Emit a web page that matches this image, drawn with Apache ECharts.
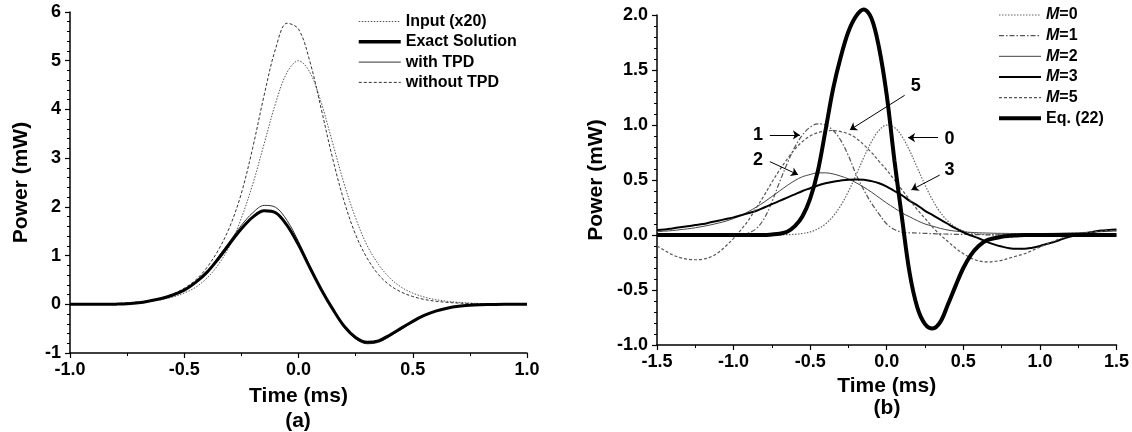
<!DOCTYPE html>
<html>
<head>
<meta charset="utf-8">
<script src="https://cdn.jsdelivr.net/npm/echarts@6/dist/echarts.min.js"></script>
<style>
  html, body { margin: 0; padding: 0; background: #fff; }
  #chart { width: 1132px; height: 432px; }
</style>
</head>
<body>
<div id="chart"></div>
<script>
// panel (a): time axis and curves
var timeA = [-1.0, -0.95, -0.9, -0.85, -0.8, -0.75, -0.7, -0.65, -0.6, -0.55,
  -0.5, -0.45, -0.4, -0.35, -0.3, -0.25, -0.2, -0.15, -0.1, -0.05,
  0, 0.05, 0.1, 0.15, 0.2, 0.25, 0.3, 0.35, 0.4, 0.45,
  0.5, 0.55, 0.6, 0.65, 0.7, 0.75, 0.8, 0.85, 0.9, 0.95,
  1.0];
var inputX20 = [0.003, 0.004, 0.0065, 0.010, 0.016, 0.025, 0.040, 0.062, 0.096, 0.149,
  0.23, 0.35, 0.54, 0.82, 1.21, 1.77, 2.47, 3.30, 4.13, 4.76,
  5.0, 4.76, 4.13, 3.30, 2.47, 1.77, 1.21, 0.82, 0.54, 0.35,
  0.23, 0.149, 0.096, 0.062, 0.040, 0.025, 0.016, 0.010, 0.0065, 0.004,
  0.003];
var exactSol = [0, 0, 0, 0, 0.003, 0.01, 0.03, 0.07, 0.12, 0.19,
  0.29, 0.45, 0.66, 0.94, 1.25, 1.55, 1.79, 1.92, 1.88, 1.62,
  1.22, 0.75, 0.30, -0.10, -0.45, -0.68, -0.78, -0.75, -0.63, -0.49,
  -0.35, -0.23, -0.14, -0.08, -0.04, -0.02, -0.01, -0.004, 0, 0,
  0];
var withTPD = [0, 0, 0, 0, 0.003, 0.01, 0.03, 0.07, 0.12, 0.19,
  0.30, 0.46, 0.68, 0.98, 1.30, 1.62, 1.88, 2.03, 1.99, 1.72,
  1.29, 0.79, 0.31, -0.11, -0.47, -0.71, -0.81, -0.78, -0.66, -0.51,
  -0.37, -0.24, -0.15, -0.08, -0.04, -0.02, -0.01, -0.004, 0, 0,
  0];
var withoutTPD = [0.002, 0.003, 0.005, 0.008, 0.015, 0.03, 0.05, 0.08, 0.13, 0.21,
  0.33, 0.50, 0.76, 1.12, 1.60, 2.28, 3.22, 4.30, 5.25, 5.77,
  5.65, 4.98, 4.0, 2.98, 2.11, 1.43, 0.95, 0.61, 0.39, 0.25,
  0.16, 0.10, 0.063, 0.04, 0.025, 0.016, 0.010, 0.006, 0.004, 0.002,
  0.001];

// panel (b)
var timeB = [-1.5, -1.45, -1.4, -1.35, -1.3, -1.25, -1.2, -1.15, -1.1, -1.05,
  -1.0, -0.95, -0.9, -0.85, -0.8, -0.75, -0.7, -0.65, -0.6, -0.55,
  -0.5, -0.45, -0.4, -0.35, -0.3, -0.25, -0.2, -0.15, -0.1, -0.05,
  0, 0.05, 0.1, 0.15, 0.2, 0.25, 0.3, 0.35, 0.4, 0.45,
  0.5, 0.55, 0.6, 0.65, 0.7, 0.75, 0.8, 0.85, 0.9, 0.95,
  1.0, 1.05, 1.1, 1.15, 1.2, 1.25, 1.3, 1.35, 1.4, 1.45,
  1.5];
var m0 = [0, 0, 0, 0, 0, 0, 0, 0, 0, 0,
  0, 0, 0, 0, 0, 0.001, 0.001, 0.003, 0.006, 0.014,
  0.028, 0.055, 0.10, 0.17, 0.268, 0.396, 0.547, 0.704, 0.847, 0.952,
  0.999, 0.978, 0.895, 0.765, 0.61, 0.454, 0.316, 0.205, 0.125, 0.07,
  0.037, 0.018, 0.0085, 0.0037, 0.0015, 0.0005, 0, 0, 0, 0,
  0, 0, 0, 0, 0, 0, 0, 0, 0, 0,
  0];
var m1 = [0, 0, 0, 0, 0, 0, 0, 0, 0, 0,
  0, 0.005, 0.02, 0.06, 0.15, 0.30, 0.48, 0.65, 0.80, 0.91,
  0.98, 1.01, 1.0, 0.95, 0.86, 0.72, 0.55, 0.41, 0.29, 0.19,
  0.10, 0.05, 0.025, 0.02, 0.018, 0.015, 0.012, 0.01, 0.008, 0.006,
  0.005, 0.004, 0.003, 0.002, 0.002, 0.002, 0.001, 0.001, 0.001, 0.001,
  0, 0, 0, 0, 0, 0, 0, 0, 0, 0,
  0];
var m2 = [0.03, 0.035, 0.04, 0.048, 0.056, 0.066, 0.078, 0.092, 0.108, 0.126,
  0.15, 0.18, 0.215, 0.255, 0.30, 0.35, 0.40, 0.45, 0.495, 0.53,
  0.55, 0.565, 0.565, 0.555, 0.535, 0.51, 0.475, 0.435, 0.39, 0.34,
  0.29, 0.245, 0.20, 0.165, 0.13, 0.10, 0.08, 0.06, 0.045, 0.035,
  0.028, 0.024, 0.02, 0.018, 0.016, 0.015, 0.014, 0.013, 0.013, 0.013,
  0.013, 0.014, 0.015, 0.017, 0.019, 0.021, 0.024, 0.027, 0.03, 0.033,
  0.036];
var m3 = [0.045, 0.05, 0.06, 0.07, 0.08, 0.09, 0.10, 0.115, 0.13, 0.145,
  0.16, 0.18, 0.20, 0.22, 0.25, 0.28, 0.31, 0.34, 0.37, 0.40,
  0.425, 0.45, 0.47, 0.485, 0.495, 0.503, 0.505, 0.503, 0.49, 0.47,
  0.44, 0.40, 0.36, 0.31, 0.27, 0.22, 0.18, 0.14, 0.10, 0.06,
  0.025, -0.005, -0.03, -0.06, -0.085, -0.105, -0.12, -0.125, -0.125, -0.115,
  -0.10, -0.08, -0.06, -0.035, -0.015, 0.0, 0.015, 0.03, 0.04, 0.045,
  0.05];
var m5 = [-0.10, -0.14, -0.18, -0.205, -0.22, -0.225, -0.22, -0.20, -0.16, -0.10,
  -0.03, 0.05, 0.14, 0.25, 0.36, 0.48, 0.59, 0.69, 0.78, 0.85,
  0.90, 0.93, 0.945, 0.95, 0.94, 0.92, 0.88, 0.82, 0.75, 0.67,
  0.59, 0.50, 0.41, 0.32, 0.23, 0.15, 0.07, 0.0, -0.06, -0.12,
  -0.17, -0.21, -0.235, -0.245, -0.24, -0.23, -0.21, -0.19, -0.17, -0.14,
  -0.11, -0.08, -0.05, -0.025, -0.005, 0.01, 0.02, 0.03, 0.035, 0.04,
  0.04];
var eq22 = [0, 0, 0, 0, 0, 0, 0, 0, 0, 0,
  0, 0, 0, 0, 0, 0.005, 0.012, 0.03, 0.08, 0.17,
  0.33, 0.58, 0.95, 1.33, 1.62, 1.85, 1.99, 2.05, 1.97, 1.70,
  1.27, 0.68, 0.15, -0.35, -0.66, -0.81, -0.85, -0.79, -0.63, -0.46,
  -0.30, -0.18, -0.10, -0.05, -0.03, -0.015, -0.008, -0.004, 0, 0,
  0, 0, 0, 0, 0, 0, 0, 0, 0, 0,
  0];

// curve labels in (b): [x, y, text]
var markLabels = [[0.19, 1.35, '5'], [0.41, 0.87, '0'], [-0.84, 0.91, '1'], [-0.84, 0.68, '2'], [0.41, 0.59, '3']];
// arrows in (b): [x1, y1, x2, y2]
var arrows = [[0.117, 1.27, -0.241, 0.955], [0.335, 0.885, 0.139, 0.885], [-0.763, 0.91, -0.567, 0.91],
  [-0.763, 0.667, -0.579, 0.548], [0.346, 0.545, 0.161, 0.41]];

var FONT = 'Liberation Sans, Arial, sans-serif';

function pairs(xs, ys) {
  return xs.map(function (x, i) { return [x, ys[i]]; });
}

function lineSeries(name, idx, xs, ys, style) {
  return {
    name: name,
    type: 'line',
    xAxisIndex: idx,
    yAxisIndex: idx,
    data: pairs(xs, ys),
    symbol: 'none',
    showSymbol: false,
    smooth: 0.35,
    clip: false,
    lineStyle: style,
    itemStyle: { color: style.color },
    z: style.width > 2 ? 3 : 2
  };
}

function xAxisCfg(idx, min, max) {
  return {
    gridIndex: idx,
    type: 'value',
    min: min,
    max: max,
    interval: 0.5,
    name: 'Time (ms)',
    nameLocation: 'middle',
    nameGap: idx === 0 ? 33 : 29,
    nameTextStyle: { fontFamily: FONT, fontWeight: 'bold', fontSize: 21, color: '#000' },
    axisLine: { onZero: false, lineStyle: { color: '#000', width: 1.5 } },
    axisTick: { length: 5, lineStyle: { color: '#000', width: 1.2 } },
    minorTick: { show: true, splitNumber: 2, length: 3, lineStyle: { color: '#000', width: 1 } },
    splitLine: { show: false },
    axisLabel: {
      margin: 8,
      fontFamily: FONT, fontWeight: 'bold', fontSize: 18, color: '#000',
      formatter: function (v) { return v.toFixed(1); }
    }
  };
}

function yAxisCfg(idx, min, max, step, digits, gap) {
  return {
    gridIndex: idx,
    type: 'value',
    min: min,
    max: max,
    interval: step,
    name: 'Power (mW)',
    nameLocation: 'middle',
    nameGap: gap,
    nameTextStyle: { fontFamily: FONT, fontWeight: 'bold', fontSize: 21, color: '#000' },
    axisLine: { onZero: false, lineStyle: { color: '#000', width: 1.5 } },
    axisTick: { length: 5, lineStyle: { color: '#000', width: 1.2 } },
    minorTick: { show: true, splitNumber: 5, length: 3, lineStyle: { color: '#000', width: 1 } },
    splitLine: { show: false },
    axisLabel: {
      margin: 9,
      fontFamily: FONT, fontWeight: 'bold', fontSize: 18, color: '#000',
      formatter: function (v) { return v.toFixed(digits); }
    }
  };
}

var legendText = { fontFamily: FONT, fontWeight: 'bold', fontSize: 16, color: '#000', lineHeight: 16 };
var hiddenDot = { color: 'rgba(0,0,0,0)', borderColor: 'rgba(0,0,0,0)', borderWidth: 0, opacity: 0 };

function legendItem(name, width) {
  return { name: name, lineStyle: { width: width } };
}

var chart = echarts.init(document.getElementById('chart'), null, { renderer: 'canvas' });

var option = {
  backgroundColor: '#fff',
  animation: false,
  grid: [
    { left: 70, top: 12, width: 457, height: 341 },
    { left: 657, top: 15, width: 460, height: 330 }
  ],
  xAxis: [xAxisCfg(0, -1, 1), xAxisCfg(1, -1.5, 1.5)],
  yAxis: [yAxisCfg(0, -1, 6, 1, 0, 38), yAxisCfg(1, -1, 2, 0.5, 1, 50)],
  legend: [
    {
      data: [legendItem('Input (x20)', 1), legendItem('Exact Solution', 3.5),
        legendItem('with TPD', 1), legendItem('without TPD', 1)],
      orient: 'vertical', left: 357, top: 13.5, padding: 0,
      itemWidth: 42, itemHeight: 14, itemGap: 4.3,
      itemStyle: hiddenDot,
      textStyle: legendText
    },
    {
      data: [legendItem('M=0', 1.2), legendItem('M=1', 1.2), legendItem('M=2', 1),
        legendItem('M=3', 2), legendItem('M=5', 1.2), legendItem('Eq. (22)', 4)],
      orient: 'vertical', left: 997, top: 7, padding: 0,
      itemWidth: 42, itemHeight: 14, itemGap: 4.66,
      itemStyle: hiddenDot,
      formatter: function (name) {
        return name.charAt(0) === 'M' ? '{i|M}' + name.slice(1) : name;
      },
      textStyle: Object.assign({}, legendText, {
        rich: { i: { fontFamily: FONT, fontWeight: 'bold', fontStyle: 'italic', fontSize: 16, color: '#000' } }
      })
    }
  ],
  graphic: [
    { type: 'text', x: 298, y: 421, style: { text: '(a)', font: 'bold 21px ' + FONT, fill: '#000', align: 'center', verticalAlign: 'middle' } },
    { type: 'text', x: 887, y: 408, style: { text: '(b)', font: 'bold 21px ' + FONT, fill: '#000', align: 'center', verticalAlign: 'middle' } }
  ],
  series: [
    lineSeries('Input (x20)', 0, timeA, inputX20, { color: '#555', width: 1, type: [1.5, 1.5] }),
    lineSeries('Exact Solution', 0, timeA, exactSol, { color: '#000', width: 3 }),
    lineSeries('with TPD', 0, timeA, withTPD, { color: '#333', width: 1 }),
    lineSeries('without TPD', 0, timeA, withoutTPD, { color: '#333', width: 1, type: [3, 2] }),

    lineSeries('M=0', 1, timeB, m0, { color: '#666', width: 1.2, type: [1.5, 1.5] }),
    lineSeries('M=1', 1, timeB, m1, { color: '#555', width: 1.2, type: [5, 2, 1.5, 2] }),
    lineSeries('M=2', 1, timeB, m2, { color: '#444', width: 1 }),
    lineSeries('M=3', 1, timeB, m3, { color: '#000', width: 2 }),
    lineSeries('M=5', 1, timeB, m5, { color: '#555', width: 1.2, type: [3, 2] }),
    lineSeries('Eq. (22)', 1, timeB, eq22, { color: '#000', width: 4 }),

    {
      type: 'lines',
      coordinateSystem: 'cartesian2d',
      xAxisIndex: 1,
      yAxisIndex: 1,
      symbol: ['none', 'arrow'],
      symbolSize: 7,
      lineStyle: { color: '#000', width: 1, opacity: 1 },
      data: arrows.map(function (a) { return { coords: [[a[0], a[1]], [a[2], a[3]]] }; }),
      z: 5
    },
    {
      type: 'scatter',
      xAxisIndex: 1,
      yAxisIndex: 1,
      symbolSize: 0,
      itemStyle: { color: '#000', opacity: 1 },
      data: markLabels.map(function (p) { return { value: [p[0], p[1]], name: p[2] }; }),
      label: {
        show: true, position: 'inside',
        formatter: function (p) { return p.name; },
        fontFamily: FONT, fontWeight: 'bold', fontSize: 18, color: '#000', opacity: 1
      },
      z: 6
    }
  ]
};

chart.setOption(option);
</script>
</body>
</html>
